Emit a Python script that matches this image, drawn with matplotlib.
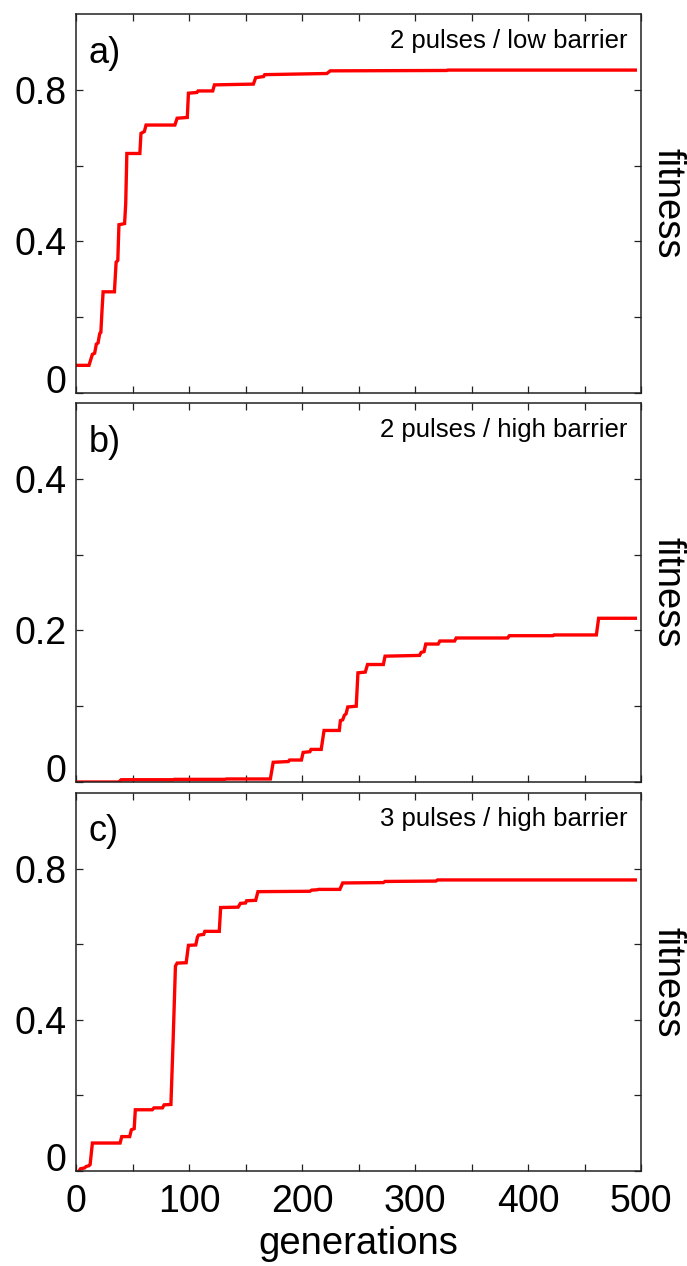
import matplotlib
matplotlib.use("Agg")
import matplotlib.pyplot as plt

plt.rcParams['font.family'] = ['Liberation Sans', 'DejaVu Sans']

# ---- data ----
gen_a = [0, 11.5, 14.5, 16.5, 18, 19.5, 21, 22, 23, 24, 34, 35.5, 37, 38, 43, 44, 45,
         56.5, 57.5, 60.5, 62, 87.5, 89.5, 98.5, 99.5, 107, 108, 121, 122.5, 157, 159,
         166, 167, 222, 225, 328, 329, 495]
fit_a = [0.073, 0.073, 0.102, 0.105, 0.129, 0.132, 0.157, 0.160, 0.217, 0.267, 0.267,
         0.345, 0.350, 0.444, 0.447, 0.500, 0.632, 0.632, 0.685, 0.690, 0.707, 0.707,
         0.725, 0.727, 0.791, 0.793, 0.797, 0.797, 0.813, 0.815, 0.832, 0.835, 0.840,
         0.843, 0.850, 0.851, 0.852, 0.852]

gen_b = [0, 38, 40, 86, 87, 132, 133, 172, 174.5, 188, 189, 199.5, 201, 207, 208, 217,
         219.5, 233, 234, 236, 237.5, 239, 240.5, 248, 249.5, 256, 258, 272, 273.5, 304,
         305.5, 308, 309.5, 320.5, 322, 335, 336.5, 382, 383.5, 422, 423, 460.5, 462.5, 495]
fit_b = [0.0, 0.0, 0.003, 0.003, 0.0035, 0.0035, 0.004, 0.004, 0.026, 0.027, 0.029,
         0.029, 0.039, 0.040, 0.043, 0.043, 0.068, 0.068, 0.081, 0.082, 0.088, 0.090,
         0.099, 0.100, 0.144, 0.145, 0.155, 0.155, 0.166, 0.167, 0.171, 0.172, 0.182,
         0.182, 0.186, 0.186, 0.190, 0.190, 0.193, 0.193, 0.194, 0.194, 0.216, 0.216]

gen_c = [0, 2, 4, 7.5, 9, 11.5, 12.5, 14.5, 39, 40.5, 47.5, 49, 51.5, 52.5, 67.5, 69,
         76.5, 78, 84, 86, 88, 89.5, 97.5, 99.5, 106, 107.5, 108.5, 113, 114, 126.8, 128,
         143.5, 145.5, 150, 151, 159, 161, 207, 208.5, 213.5, 214.5, 233.5, 236, 272,
         273.5, 318.5, 320, 495]
fit_c = [-0.003, -0.003, 0.006, 0.008, 0.012, 0.014, 0.017, 0.074, 0.074, 0.091, 0.091,
         0.109, 0.112, 0.162, 0.162, 0.167, 0.167, 0.175, 0.176, 0.350, 0.542, 0.550,
         0.551, 0.597, 0.598, 0.619, 0.624, 0.626, 0.634, 0.634, 0.697, 0.698, 0.708,
         0.709, 0.715, 0.716, 0.739, 0.740, 0.743, 0.744, 0.745, 0.745, 0.762, 0.763,
         0.766, 0.767, 0.770, 0.770]

panel_labels = ['a)', 'b)', 'c)']
titles = ['2 pulses / low barrier', '2 pulses / high barrier', '3 pulses / high barrier']
ylims = [(0, 1.0), (0, 0.5), (0, 1.0)]
yticks = [[0, 0.2, 0.4, 0.6, 0.8], [0, 0.1, 0.2, 0.3, 0.4], [0, 0.2, 0.4, 0.6, 0.8]]
yticklabels = [['0', '', '0.4', '', '0.8'], ['0', '', '0.2', '', '0.4'], ['0', '', '0.4', '', '0.8']]
xticks = [0, 50, 100, 150, 200, 250, 300, 350, 400, 450, 500]
xticklabels = ['0', '', '100', '', '200', '', '300', '', '400', '', '500']

fig = plt.figure(figsize=(6.87, 12.66), dpi=100)
W, H = 687, 1266
left, right = 76, 641
tops = [14, 403, 793]
bots = [393, 782, 1171]

series = [(gen_a, fit_a), (gen_b, fit_b), (gen_c, fit_c)]
spine_col = '#222222'
for i in range(3):
    ax = fig.add_axes([left / W, 1 - bots[i] / H, (right - left) / W, (bots[i] - tops[i]) / H])
    g, f = series[i]
    ax.plot(g, f, color='#ff0000', lw=2.4, solid_joinstyle='miter')
    ax.set_xlim(0, 500)
    ax.set_ylim(*ylims[i])
    ax.set_yticks(yticks[i])
    ax.set_yticklabels(yticklabels[i], fontsize=27)
    ax.set_xticks(xticks)
    if i == 2:
        ax.set_xticklabels(xticklabels, fontsize=27)
        ax.set_xlabel('generations', fontsize=27.5, labelpad=5)
    else:
        ax.set_xticklabels([])
    ax.tick_params(direction='in', length=5, width=0.9, top=True, right=True,
                   color=spine_col, pad=7)
    ax.tick_params(axis='x', pad=9)
    for s in ax.spines.values():
        s.set_linewidth(1.1)
        s.set_color(spine_col)
    lab0 = ax.get_yticklabels()[0]
    lab0.set_va('baseline')
    ax.text(0.023, 0.897, panel_labels[i], transform=ax.transAxes, fontsize=26,
            ha='left', va='center')
    ax.text(0.976, 0.930, titles[i], transform=ax.transAxes, fontsize=18.5,
            ha='right', va='center')
    ax.text(1.047, 0.5, 'fitness', transform=ax.transAxes, fontsize=27.5,
            rotation=270, ha='center', va='center')

fig.savefig('out.png', dpi=100)
